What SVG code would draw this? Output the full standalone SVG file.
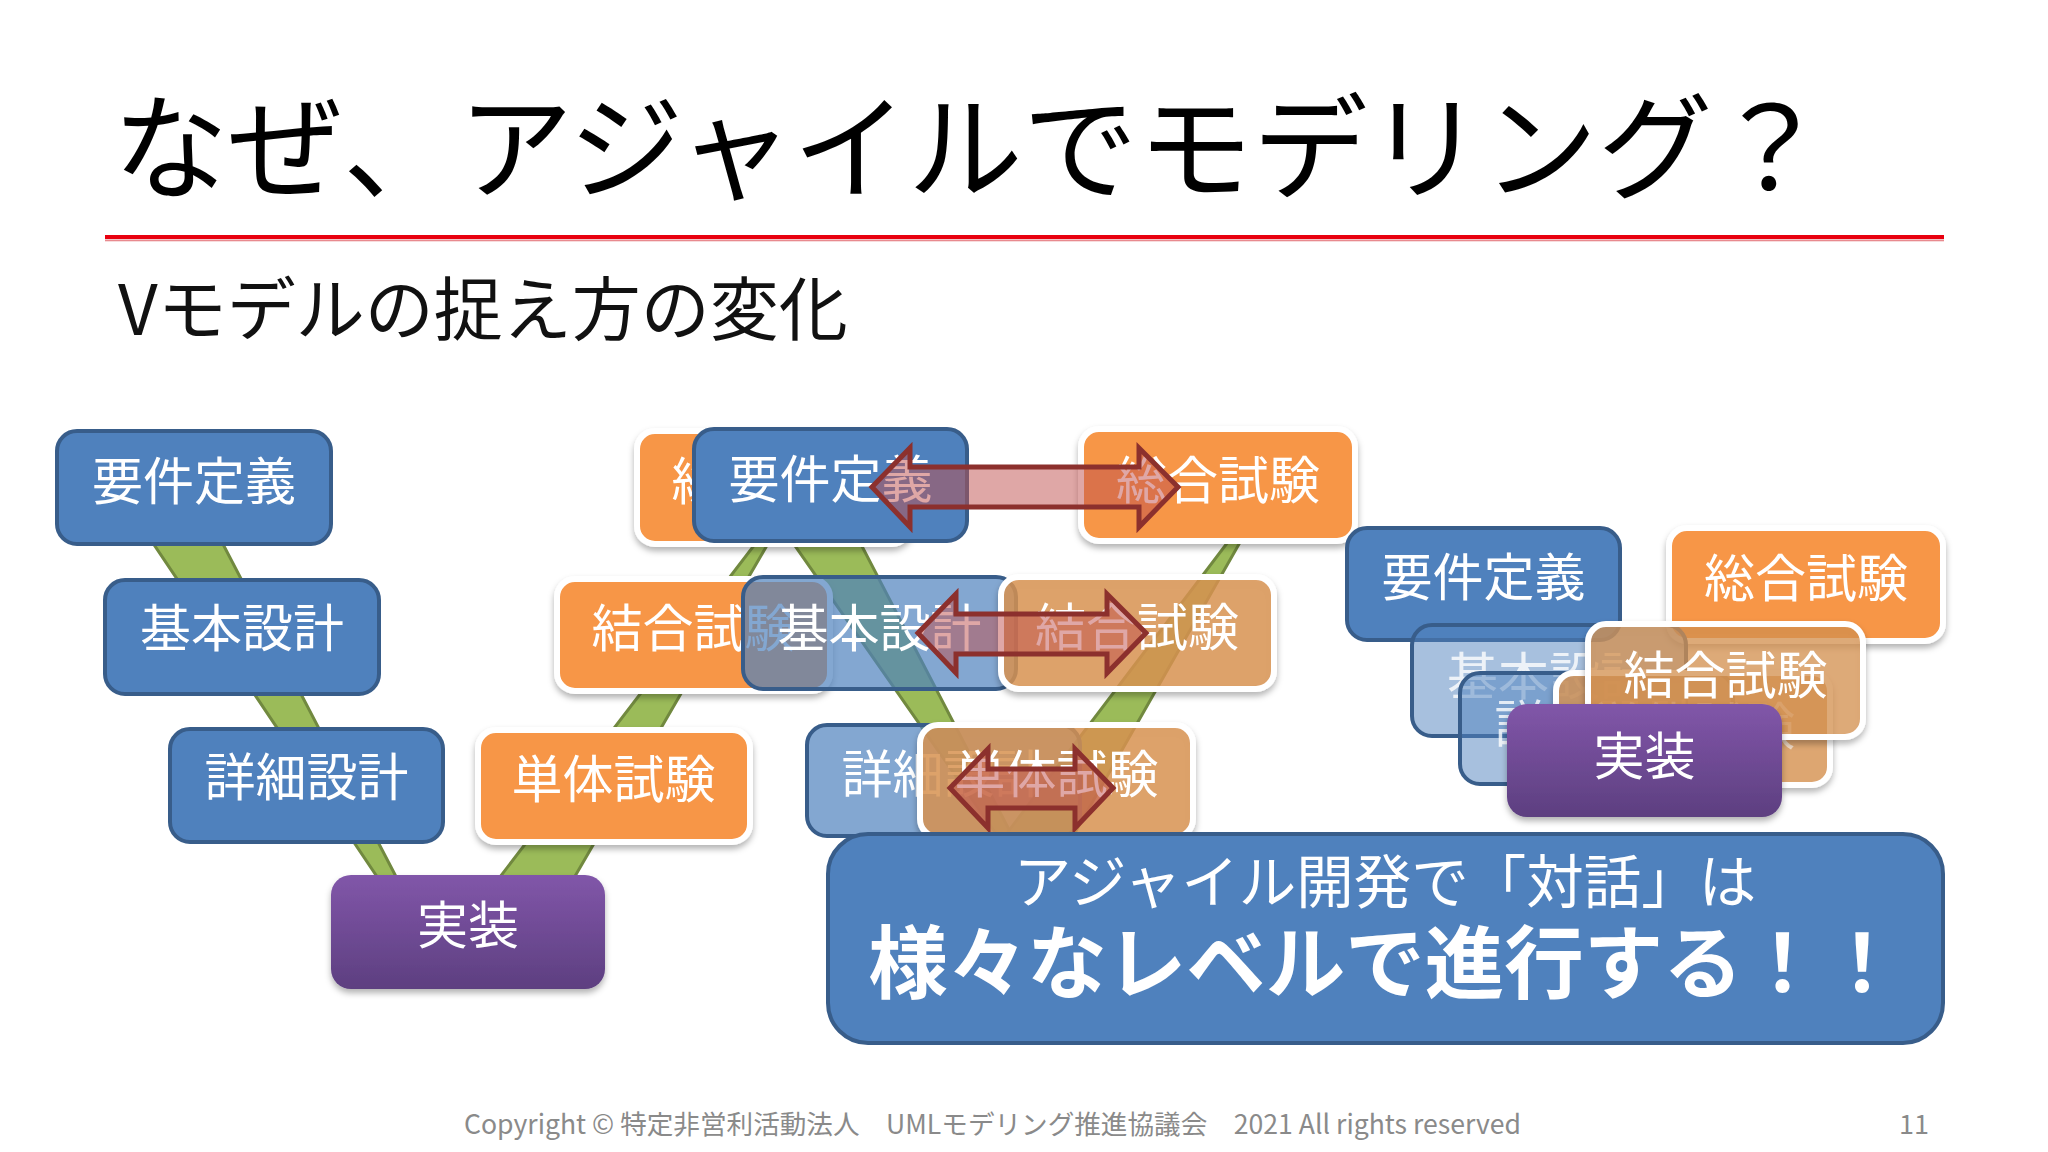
<svg xmlns="http://www.w3.org/2000/svg" width="2048" height="1152" viewBox="0 0 2048 1152">
<defs>
<style>
text{font-family:"Noto Sans CJK JP","Noto Sans",sans-serif;}
.n{font-size:51px;fill:#fff;text-anchor:middle;}
.b{fill:#4f81bd;stroke:#385d8a;stroke-width:4;}
.o{fill:#f79646;stroke:#fff;stroke-width:6;filter:url(#sh);}
.o2{fill:#dc9553;stroke:#fff;stroke-width:6;filter:url(#sh);}
.p{fill:url(#pg);filter:url(#sh);}
.band{fill:#9bbb59;stroke:#71893f;stroke-width:3;}
.arr{fill:#c0504d;fill-opacity:.5;stroke:#8c302d;stroke-width:5;stroke-linejoin:miter;}
</style>
<linearGradient id="pg" x1="0" y1="0" x2="0" y2="1"><stop offset="0" stop-color="#8156a9"/><stop offset="1" stop-color="#5d3f80"/></linearGradient>
<filter id="sh" x="-10%" y="-10%" width="120%" height="125%"><feDropShadow dx="0" dy="4" stdDeviation="3" flood-color="#000" flood-opacity=".3"/></filter>
</defs>
<rect width="2048" height="1152" fill="#fff"/>
<text id="title" x="113" y="190" font-size="115" fill="#000">なぜ、アジャイルでモデリング？</text>
<rect x="105" y="235" width="1839" height="4" fill="#e8000f"/>
<rect x="105" y="239.500" width="1839" height="1.800" fill="#e88a8f"/>
<text id="subtitle" x="118" y="335" font-size="69" fill="#111">Vモデルの捉え方の変化</text>

<g id="connectors-v">
<polygon class="band" points="124,500 200,500 403,890 386,890"/>
<polygon class="band" points="490,890 567,890 773,535 762,535"/>
<polygon class="band" points="763,500 838,500 1017,845 1004,845"/>
<polygon class="band" points="998,845 1068,845 1247,530 1237,530"/>
</g>

<g id="n-req1"><rect class="b" x="57" y="431" width="274" height="113" rx="20"/><text class="n" x="194" y="500">要件定義</text></g>
<g id="n-bas1"><rect class="b" x="105" y="580" width="274" height="114" rx="20"/><text class="n" x="242" y="647">基本設計</text></g>
<g id="n-det1"><rect class="b" x="170" y="729" width="273" height="113" rx="20"/><text class="n" x="306.500" y="796">詳細設計</text></g>
<g id="n-imp1"><rect class="p" x="331" y="875" width="274" height="114" rx="20"/><text class="n" x="468" y="944">実装</text></g>
<g id="n-uni1"><rect class="o" x="478" y="730" width="272" height="112" rx="18"/><text class="n" x="613.500" y="798">単体試験</text></g>
<g id="n-int1"><rect class="o" x="557" y="579" width="273" height="112" rx="18"/><text class="n" x="693.500" y="647">結合試験</text></g>
<g id="n-sys1"><rect class="o" x="637" y="431" width="273" height="113" rx="18"/><text class="n" x="773.500" y="500">総合試験</text></g>

<g id="n-req2"><rect class="b" x="694" y="429" width="273" height="112" rx="20"/><text class="n" x="830.500" y="498">要件定義</text></g>
<g id="n-bas2"><rect class="b" x="743" y="577" width="273" height="112" rx="20" fill-opacity=".7"/><text class="n" x="879.500" y="647">基本設計</text></g>
<g id="n-det2"><rect class="b" x="807" y="725" width="273" height="111" rx="20" fill-opacity=".7"/><text class="n" x="943.500" y="793">詳細設計</text></g>
<g id="n-sys2"><rect class="o" x="1081" y="429" width="274" height="112" rx="18"/><text class="n" x="1218" y="499">総合試験</text></g>
<g id="n-int2"><rect class="o2" x="1001" y="577" width="273" height="112" rx="18" fill-opacity=".8"/><text class="n" x="1137" y="646">結合試験</text></g>
<g id="n-uni2"><rect class="o2" x="920" y="725" width="273" height="112" rx="18" fill-opacity=".8"/><text class="n" x="1056.500" y="793">単体試験</text></g>

<g id="connectors-arrows">
<polygon class="arr" points="872,487 910,448 910,467 1139,467 1139,448 1178,487 1139,527 1139,507 910,507 910,527"/>
<polygon class="arr" points="918,633 956,594 956,614 1107,614 1107,594 1146,633 1107,673 1107,654 956,654 956,673"/>
<polygon class="arr" points="950,788 988,749 988,769 1075,769 1075,749 1113,788 1075,828 1075,808 988,808 988,828"/>
</g>

<g id="n-req3"><rect class="b" x="1347" y="528" width="273" height="112" rx="20"/><text class="n" x="1483.500" y="596">要件定義</text></g>
<g id="n-sys3"><rect class="o" x="1669" y="528" width="274" height="113" rx="18"/><text class="n" x="1806" y="597">総合試験</text></g>
<g id="n-bas3"><rect class="b" x="1412" y="625" width="274" height="111" rx="20" fill-opacity=".5"/><text class="n" x="1549" y="695" opacity=".8">基本設計</text></g>
<g id="n-det3"><rect class="b" x="1460" y="673" width="273" height="111" rx="20" fill-opacity=".5"/><text class="n" x="1596.500" y="743" opacity=".8">詳細設計</text></g>
<g id="n-uni3"><rect class="o2" x="1556" y="673" width="274" height="112" rx="18" fill-opacity=".75"/><text class="n" x="1693" y="745" opacity=".6">単体試験</text></g>
<g id="n-int3"><rect class="o2" x="1588" y="624" width="275" height="113" rx="18" fill-opacity=".7"/><text class="n" x="1725.500" y="694">結合試験</text></g>
<g id="n-imp3"><rect class="p" x="1507" y="704" width="275" height="113" rx="20"/><text class="n" x="1644.500" y="775">実装</text></g>

<g id="callout">
<rect class="b" x="828" y="834" width="1115" height="209" rx="40"/>
<text x="1385" y="903" font-size="57.500" fill="#fff" text-anchor="middle">アジャイル開発で「対話」は</text>
<text x="1385" y="992" font-size="79.500" font-weight="700" fill="#fff" text-anchor="middle">様々なレベルで進行する！！</text>
</g>

<text id="footer" x="464" y="1134" font-size="26.600" fill="#8a8a8a">Copyright © 特定非営利活動法人　UMLモデリング推進協議会　2021 All rights reserved</text>
<text id="page" x="1899" y="1134" font-size="27" fill="#8a8a8a">11</text>
</svg>
